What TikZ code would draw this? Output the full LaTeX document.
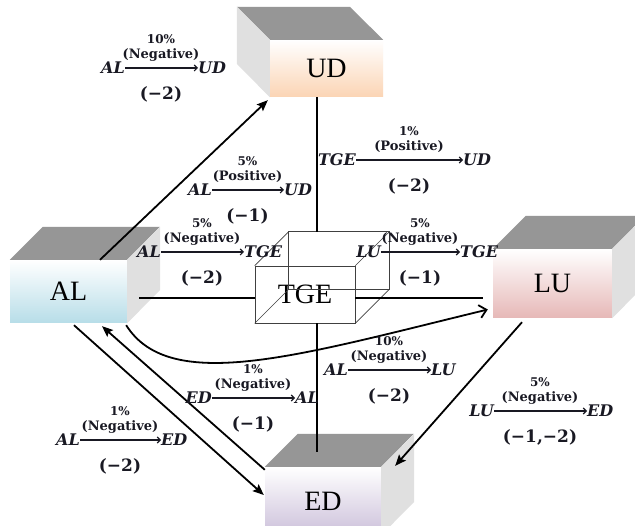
\documentclass[tikz,border=0pt]{standalone}
\usepackage{fontspec}
\setmainfont{Liberation Serif}
\newfontfamily\labfont{DejaVu Serif}
\usetikzlibrary{arrows.meta,calc}
\definecolor{topgray}{RGB}{150,150,150}
\definecolor{sidegray}{RGB}{224,224,224}
\definecolor{alc}{RGB}{183,221,232}
\definecolor{udc}{RGB}{251,212,180}
\definecolor{luc}{RGB}{230,184,183}
\definecolor{edc}{RGB}{204,192,218}
\definecolor{labc}{RGB}{25,25,35}
\tikzset{
  face/.style={inner sep=0pt, font=\fontsize{28}{30}\selectfont},
  topf/.style={fill=topgray},
  sidef/.style={fill=sidegray},
  conn/.style={line width=1.8pt, -{Stealth[length=11pt,width=9pt,inset=2pt]}},
  axisline/.style={line width=1.3pt},
  cube/.style={draw=black!75, line width=0.7pt},
  labvar/.style={inner sep=0pt, text=labc, font=\labfont\bfseries\itshape\fontsize{16}{17}\selectfont},
  labsign/.style={inner sep=0pt, text=labc, font=\labfont\bfseries\fontsize{13}{14}\selectfont},
  labpct/.style={inner sep=0pt, text=labc, font=\labfont\bfseries\fontsize{12}{13}\selectfont},
  labnum/.style={inner sep=0pt, text=labc, font=\labfont\bfseries\fontsize{17}{18}\selectfont},
  labarrow/.style={draw=labc, line width=1.1pt, -{Straight Barb[length=3pt,width=6pt]}}
}
% name, xs, xe, y, left, right, pct, sign, below
\newcommand{\flow}[9]{%
  \node[labvar, anchor=east] (#1l) at (#2,#4) {#5};
  \node[labvar, anchor=west] (#1r) at (#3+1,#4) {#6};
  \draw[labarrow] (#1l) -- (#1r);
  \node[labsign] (#1s) at ({(#2+#3)/2},#4-13) {(#8)};
  \node[labpct] (#1p) at ({(#2+#3)/2},#4-29) {#7};
  \node[labnum] (#1n) at ({(#2+#3)/2},#4+26) {#9};
}
\begin{document}
\begin{tikzpicture}[x=1pt,y=-1pt]
\useasboundingbox (0,0) rectangle (635,526);
\clip (0,0) rectangle (635,526);
\fill[white] (0,0) rectangle (635,526);

% UD box (depth to left-back)
\node[face, minimum width=113pt, minimum height=57pt, top color=white, bottom color=udc] (ud) at (326.5,68.5) {UD};
\fill[topf] (ud.north west) -- ++(-33,-33) -- ++(113,0) -- (ud.north east) -- cycle;
\fill[sidef] (ud.north west) -- ++(-33,-33) -- ++(0,57) -- (ud.south west) -- cycle;

% AL box
\node[face, minimum width=117pt, minimum height=63pt, top color=white, bottom color=alc] (al) at (68.5,291.5) {AL};
\fill[topf] (al.north west) -- ++(33,-33) -- ++(117,0) -- (al.north east) -- cycle;
\fill[sidef] (al.north east) -- ++(33,-33) -- ++(0,63) -- (al.south east) -- cycle;

% LU box
\node[face, minimum width=119pt, minimum height=69pt, top color=white, bottom color=luc] (lu) at (552.5,283.5) {LU};
\fill[topf] (lu.north west) -- ++(33,-33) -- ++(119,0) -- (lu.north east) -- cycle;
\fill[sidef] (lu.north east) -- ++(33,-33) -- ++(0,69) -- (lu.south east) -- cycle;

% ED box
\node[face, minimum width=116pt, minimum height=68pt, top color=white, bottom color=edc] (ed) at (323,501) {ED};
\fill[topf] (ed.north west) -- ++(33,-33) -- ++(116,0) -- (ed.north east) -- cycle;
\fill[sidef] (ed.north east) -- ++(33,-33) -- ++(0,68) -- (ed.south east) -- cycle;

% TGE wireframe cube
\node[face, cube, minimum width=100pt, minimum height=57pt] (tge) at (305,294.5) {TGE};
\draw[cube] ($(tge.north west)+(34,-34)$) rectangle ($(tge.south east)+(34,-34)$);
\draw[cube] (tge.north west) -- ++(34,-34);
\draw[cube] (tge.north east) -- ++(34,-34);
\draw[cube] (tge.south west) -- ++(34,-34);
\draw[cube] (tge.south east) -- ++(34,-34);

% axis lines
\coordinate (vt) at ($(ud.south)+(-9.5,0)$);
\coordinate (vtg) at ($(tge.north)+(12,-34)$);
\coordinate (vbg) at ($(tge.south)+(12,0)$);
\coordinate (vb) at ($(ed.north)+(-6,-15)$);
\draw[axisline] (vt) -- (vtg);
\draw[axisline] (vbg) -- (vb);
\coordinate (hl) at ($(al.east)+(12,6.5)$);
\coordinate (hr) at ($(lu.west)+(-10,14.5)$);
\draw[axisline] (hl) -- (hl -| tge.west);
\draw[axisline] (hl -| tge.east) -- (hr);

% connectors
\draw[conn] ($(al.north)+(31.5,0)$) -- ($(ud.south west)+(-2,3)$);
\draw[line width=1.8pt, -{Straight Barb[length=7pt,width=13pt]}] ($(al.south east)+(-1,2)$) .. controls (170,395) and (300,355) .. ($(lu.west)+(-5,26)$);
\draw[conn] ($(ed.north west)+(0,3)$) -- ($(al.south)+(33.5,3)$);
\draw[conn] ($(al.south)+(5.5,2)$) -- ($(ed.west)+(-1,-6)$);
\draw[conn] ($(lu.south)+(-30.5,4)$) -- ($(ed.north east)+(14,-1)$);

% labels
\flow{fa}{125}{197}{68}{AL}{UD}{10\%}{Negative}{(−2)}
\flow{fb}{212}{283}{190}{AL}{UD}{5\%}{Positive}{(−1)}
\flow{fc}{161}{243}{252}{AL}{TGE}{5\%}{Negative}{(−2)}
\flow{fd}{356}{462}{160}{TGE}{UD}{1\%}{Positive}{(−2)}
\flow{fe}{381}{459}{252}{LU}{TGE}{5\%}{Negative}{(−1)}
\flow{ff}{348}{430}{370}{AL}{LU}{10\%}{Negative}{(−2)}
\flow{fg}{212}{294}{398}{ED}{AL}{1\%}{Negative}{(−1)}
\flow{fh}{494}{586}{411}{LU}{ED}{5\%}{Negative}{(−1,−2)}
\flow{fi}{80}{160}{440}{AL}{ED}{1\%}{Negative}{(−2)}
\end{tikzpicture}
\end{document}
